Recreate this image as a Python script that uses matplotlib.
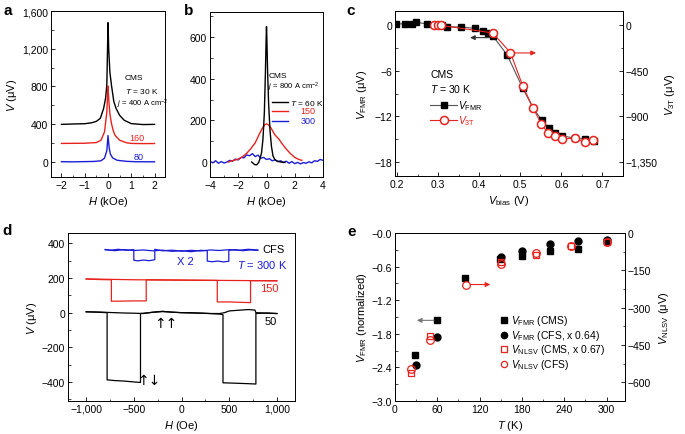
import numpy as np
import matplotlib
matplotlib.use('Agg')
import matplotlib.pyplot as plt
from matplotlib.ticker import MultipleLocator, FuncFormatter

plt.rcParams['font.family'] = ['Liberation Sans', 'DejaVu Sans']
plt.rcParams['mathtext.fontset'] = 'custom'
plt.rcParams['mathtext.rm'] = 'Liberation Sans'
plt.rcParams['mathtext.it'] = 'Liberation Sans:italic'
plt.rcParams['mathtext.default'] = 'regular'
plt.rcParams['font.size'] = 7.5
plt.rcParams['axes.linewidth'] = 0.7

# ---- Panel a: V vs H at T = 30 K for three currents
a_H_400 = [-2.0, -1.5, -1.0, -0.7, -0.5, -0.33, -0.19, -0.1, -0.05, 0.0, 0.03, 0.08, 0.15, 0.25, 0.35, 0.5, 0.7, 1.0, 1.5, 2.0]
a_V_400 = [398, 402, 405, 415, 430, 462, 565, 680, 820, 1476, 1200, 954, 812, 640, 565, 494, 441, 406, 396, 398]
a_H_160 = [-2.0, -1.5, -1.0, -0.5, -0.3, -0.15, -0.05, 0.0, 0.03, 0.08, 0.15, 0.22, 0.3, 0.5, 0.8, 1.0, 1.5, 2.0]
a_V_160 = [196, 197, 198, 205, 230, 318, 530, 805, 671, 512, 406, 336, 283, 230, 203, 196, 194, 195]
a_H_80 = [-2.0, -1.5, -1.0, -0.6, -0.3, -0.15, -0.05, 0.0, 0.05, 0.1, 0.2, 0.4, 0.8, 1.2, 2.0]
a_V_80 = [2, 1, 3, 5, 12, 40, 120, 280, 150, 85, 42, 17, 6, 2, 1]

# ---- Panel b: V vs H at j = 800 A/cm2 for three temperatures
b_H_60 = [-1.05, -0.85, -0.7, -0.55, -0.45, -0.35, -0.25, -0.15, -0.08, -0.03, 0.0, 0.03, 0.08, 0.15, 0.25, 0.35, 0.46, 0.6, 0.8, 1.0, 1.3]
b_V_60 = [0, -12, -14, -2, 18, 45, 110, 240, 420, 580, 650, 580, 430, 280, 150, 75, 29, 11, 3, 0, -2]
b_H_150 = [-2.7, -2.5, -2.2, -2.0, -1.7, -1.4, -1.1, -0.8, -0.5, -0.3, -0.1, 0.0, 0.1, 0.3, 0.6, 0.9, 1.1, 1.4, 1.7, 2.0, 2.3, 2.5]
b_V_150 = [0, 5, 10, 14, 25, 42, 65, 92, 135, 162, 180, 183, 180, 165, 130, 108, 88, 62, 40, 22, 12, 8]
b_H_300 = [-4.0, -3.8, -3.6, -3.4, -3.2, -3.0, -2.8, -2.6, -2.4, -2.2, -2.0, -1.8, -1.6, -1.4, -1.2, -1.0, -0.8, -0.6, -0.4, -0.2,
           0.0, 0.2, 0.4, 0.6, 0.8, 1.0, 1.2, 1.4, 1.6, 1.8, 2.0, 2.2, 2.4, 2.6, 2.8, 3.0, 3.2, 3.4, 3.6, 3.8, 4.0]
b_V_300 = [3, -4, 6, -6, 2, -5, 0, 8, 4, 14, 10, 22, 20, 34, 30, 40, 26, 33, 18, 22,
           12, 16, 6, 10, 2, 6, -3, 4, -6, 2, -8, -2, -9, -3, -6, 1, -4, 6, 3, 12, 8]

# ---- Panel c: bias dependence, CMS, T = 30 K
c_vb_fmr = [0.198, 0.22, 0.237, 0.247, 0.273, 0.298, 0.31, 0.322, 0.356, 0.389, 0.408, 0.421, 0.433, 0.468, 0.506, 0.531, 0.552, 0.57, 0.585, 0.602, 0.633, 0.657, 0.68]
c_fmr = [0.2, 0.2, 0.2, 0.4, 0.2, 0.0, 0.0, -0.2, -0.2, -0.4, -0.7, -1.0, -1.4, -3.9, -8.3, -10.9, -12.5, -13.6, -14.2, -14.6, -14.9, -15.0, -15.3]
c_vb_3t = [0.291, 0.299, 0.307, 0.433, 0.476, 0.506, 0.531, 0.551, 0.567, 0.585, 0.602, 0.633, 0.657, 0.678]
c_3t = [0, 0, 0, -75, -270, -600, -818, -975, -1065, -1095, -1125, -1118, -1155, -1133]

# ---- Panel d: nonlocal spin valve, sweeps up / down
d_H_50_up = [-1000, -900, -800, -700, -600, -500, -400, -300, -200, -100, 0, 100, 200, 300, 400, 435, 435, 500, 600, 700, 780, 780, 850, 900, 1000]
d_V_50_up = [5, 4, 2, 0, -2, -3, -5, 3, 8, 3, 0, -2, -3, -5, -8, -12, -405, -406, -408, -410, -412, -5, -3, -2, -5]
d_H_50_dn = [1000, 900, 780, 770, 700, 600, 500, 450, 400, 300, 100, 0, -100, -200, -300, -430, -430, -500, -600, -700, -780, -780, -850, -1000]
d_V_50_dn = [-5, -3, 0, 15, 18, 14, 10, 0, -5, -5, 0, 0, 3, 6, 2, -5, -403, -400, -395, -392, -388, 0, 2, 5]
d_H_150_up = [-1000, -500, 0, 375, 375, 500, 600, 724, 724, 850, 1000]
d_V_150_up = [195, 190, 188, 186, 62, 62, 60, 58, 185, 185, 184]
d_H_150_dn = [1000, 500, 0, -370, -370, -500, -600, -735, -735, -850, -1000]
d_V_150_dn = [184, 186, 188, 190, 68, 68, 67, 66, 190, 191, 194]
d_H_300_up = [-800, -700, -600, -500, -400, -300, -200, -100, 0, 100, 200, 270, 270, 320, 380, 440, 496, 496, 560, 640, 720, 800]
d_V_300_up = [363, 358, 364, 359, 362, 357, 361, 354, 358, 352, 360, 358, 298, 294, 298, 293, 297, 360, 364, 358, 362, 360]
d_H_300_dn = [800, 700, 600, 500, 400, 300, 200, 100, 0, -100, -200, -280, -280, -340, -400, -460, -500, -500, -580, -660, -740, -800]
d_V_300_dn = [362, 366, 360, 364, 359, 362, 356, 360, 355, 361, 357, 366, 306, 300, 304, 299, 303, 364, 360, 366, 361, 365]

# ---- Panel e: temperature dependence
e_T_fmr_cms = [29, 59, 99, 149, 180, 219, 260, 300]
e_fmr_cms = [-2.18, -1.56, -0.81, -0.47, -0.41, -0.33, -0.29, -0.14]
e_T_fmr_cfs = [30, 60, 150, 180, 220, 260, 300]
e_fmr_cfs = [-2.36, -1.85, -0.42, -0.33, -0.20, -0.14, -0.12]
e_T_nlsv_cms = [23, 49, 150, 200, 249, 300]
e_nlsv_cms = [-562, -414, -115, -88, -52, -36]
e_T_nlsv_cfs = [23, 49, 100, 150, 200, 249, 300]
e_nlsv_cfs = [-545, -428, -207, -124, -81, -52, -38]


fig = plt.figure(figsize=(6.85, 4.35), dpi=100)
W, Hh = 685.0, 435.0


def ax_px(l, t, r, b):
    return fig.add_axes([l / W, 1 - b / Hh, (r - l) / W, (b - t) / Hh])


def ticks_in(ax):
    ax.tick_params(direction='in', length=3, width=0.6, pad=2, labelsize=7.5)
    ax.tick_params(which='minor', direction='in', length=1.8, width=0.5)


comma = FuncFormatter(lambda v, p: '{:,.0f}'.format(v).replace('-', '\u2212'))
dec1 = FuncFormatter(lambda v, p: '{:.1f}'.format(v).replace('-', '\u2212'))
lab = dict(fontsize=8)

# a
ax = ax_px(51, 12, 165, 178)
ax.plot(a_H_400, a_V_400, color='black', lw=1)
ax.plot(a_H_160, a_V_160, color='#e8221e', lw=1)
ax.plot(a_H_80, a_V_80, color='#1c1cd6', lw=1)
ax.set_xlim(-2.45, 2.45)
ax.set_ylim(-160, 1600)
ax.xaxis.set_major_locator(MultipleLocator(1))
ax.xaxis.set_minor_locator(MultipleLocator(0.5))
ax.yaxis.set_major_locator(MultipleLocator(400))
ax.yaxis.set_minor_locator(MultipleLocator(200))
ax.yaxis.set_major_formatter(comma)
ax.xaxis.set_major_formatter(FuncFormatter(lambda v, p: '{:.0f}'.format(v).replace('-', '\u2212')))
ticks_in(ax)
ax.set_xlabel('$\\mathit{H}$ (kOe)', labelpad=3, **lab)
ax.set_ylabel('$\\mathit{V}$ ($\\mu$V)', labelpad=2, **lab)
ax.text(1.1, 900, 'CMS', fontsize=6, ha='center', va='center')
ax.text(0.75, 752, '$\\mathit{T}$ = 30 K', fontsize=6, ha='left', va='center', clip_on=False)
ax.text(0.37, 625, '$\\mathit{j}$ = 400 A cm$^{-2}$', fontsize=5.5, ha='left', va='center', clip_on=False)
ax.text(0.9, 254, '160', fontsize=6.5, color='#e8221e', ha='left', va='center')
ax.text(1.1, 53, '80', fontsize=6.5, color='#1c1cd6', ha='left', va='center')
fig.text(3 / W, 1 - 11 / Hh, 'a', fontsize=11, fontweight='bold', va='center')

# b
ax = ax_px(210, 13, 323, 178)
ax.plot(b_H_300, b_V_300, color='#1c1cd6', lw=1)
ax.plot(b_H_150, b_V_150, color='#e8221e', lw=1)
ax.plot(b_H_60, b_V_60, color='black', lw=1)
ax.set_xlim(-4, 4)
ax.set_ylim(-72, 720)
ax.xaxis.set_major_locator(MultipleLocator(2))
ax.xaxis.set_minor_locator(MultipleLocator(1))
ax.yaxis.set_major_locator(MultipleLocator(200))
ax.yaxis.set_minor_locator(MultipleLocator(100))
ax.xaxis.set_major_formatter(FuncFormatter(lambda v, p: '{:.0f}'.format(v).replace('-', '\u2212')))
ticks_in(ax)
ax.set_xlabel('$\\mathit{H}$ (kOe)', labelpad=3, **lab)
ax.text(0.18, 413, 'CMS', fontsize=6, ha='left', va='center')
ax.text(0.1, 365, '$\\mathit{j}$ = 800 A cm$^{-2}$', fontsize=5.5, ha='left', va='center', clip_on=False)
ax.plot([0.39, 1.52], [288, 288], color='black', lw=1)
ax.plot([0.39, 1.52], [245, 245], color='#e8221e', lw=1)
ax.plot([0.39, 1.52], [197, 197], color='#1c1cd6', lw=1)
ax.text(1.66, 288, '$\\mathit{T}$ = 60 K', fontsize=6, ha='left', va='center', clip_on=False)
ax.text(2.4, 245, '150', fontsize=6.5, color='#e8221e', ha='left', va='center')
ax.text(2.4, 197, '300', fontsize=6.5, color='#1c1cd6', ha='left', va='center')
fig.text(184 / W, 1 - 11 / Hh, 'b', fontsize=11, fontweight='bold', va='center')

# c
ax = ax_px(395, 12, 623, 177)
ax.plot(c_vb_fmr, c_fmr, color='#555555', lw=0.8, marker='s', ms=4.3, mfc='black', mec='black', zorder=3)
ax.set_xlim(0.195, 0.75)
ax.set_ylim(-19.9, 1.9)
ax.xaxis.set_major_locator(MultipleLocator(0.1))
ax.xaxis.set_minor_locator(MultipleLocator(0.05))
ax.yaxis.set_major_locator(MultipleLocator(6))
ax.yaxis.set_minor_locator(MultipleLocator(3))
ax.xaxis.set_major_formatter(dec1)
ax.yaxis.set_major_formatter(FuncFormatter(lambda v, p: '{:.0f}'.format(v).replace('-', '\u2212')))
ticks_in(ax)
ax.set_xlabel('$\\mathit{V}_{\\rm bias}$ (V)', labelpad=3, **lab)
ax.set_ylabel('$\\mathit{V}_{\\rm FMR}$ ($\\mu$V)', labelpad=4, **lab)
ax2 = ax.twinx()
ax2.plot(c_vb_3t, c_3t, color='#e8221e', lw=0.8, marker='o', ms=5.8, mfc='white', mec='#e8221e', mew=1.1, zorder=4)
ax2.set_ylim(-19.9 * 75, 1.9 * 75)
ax2.yaxis.set_major_locator(MultipleLocator(450))
ax2.yaxis.set_minor_locator(MultipleLocator(225))
ax2.yaxis.set_major_formatter(comma)
ticks_in(ax2)
ax2.set_ylabel('$\\mathit{V}_{\\rm 3T}$ ($\\mu$V)', labelpad=4, **lab)
ax.annotate('', xy=(0.371, -1.62), xytext=(0.432, -1.62),
            arrowprops=dict(arrowstyle='-|>', color='#333333', lw=0.8, mutation_scale=7))
ax.annotate('', xy=(0.545, -3.64), xytext=(0.476, -3.64),
            arrowprops=dict(arrowstyle='-|>', color='#e8221e', lw=0.8, mutation_scale=7))
ax.text(0.281, -6.37, 'CMS', fontsize=7.5, ha='left', va='center')
ax.text(0.281, -8.25, '$\\mathit{T}$ = 30 K', fontsize=7.5, ha='left', va='center')
ax.plot([0.281, 0.346], [-10.5, -10.5], color='#555555', lw=0.8)
ax.plot([0.315], [-10.5], marker='s', ms=4.3, color='black', ls='none')
ax.text(0.348, -10.5, '$\\mathit{V}_{\\rm FMR}$', fontsize=7.5, ha='left', va='center')
ax.plot([0.281, 0.346], [-12.5, -12.5], color='#e8221e', lw=0.8)
ax.plot([0.315], [-12.5], marker='o', ms=5.8, mfc='white', mec='#e8221e', mew=1.1, ls='none')
ax.text(0.348, -12.5, '$\\mathit{V}_{\\rm 3T}$', fontsize=7.5, color='#e8221e', ha='left', va='center')
fig.text(346 / W, 1 - 11 / Hh, 'c', fontsize=11, fontweight='bold', va='center')

# d
ax = ax_px(68, 234, 295, 402)
ax.plot(d_H_300_up, d_V_300_up, color='#1c1cd6', lw=0.9)
ax.plot(d_H_300_dn, d_V_300_dn, color='#1c1cd6', lw=0.9)
ax.plot(d_H_150_up, d_V_150_up, color='#e8221e', lw=0.9)
ax.plot(d_H_150_dn, d_V_150_dn, color='#e8221e', lw=0.9)
ax.plot(d_H_50_up, d_V_50_up, color='black', lw=0.9)
ax.plot(d_H_50_dn, d_V_50_dn, color='black', lw=0.9)
ax.set_xlim(-1190, 1190)
ax.set_ylim(-510, 460)
ax.xaxis.set_major_locator(MultipleLocator(500))
ax.xaxis.set_minor_locator(MultipleLocator(250))
ax.yaxis.set_major_locator(MultipleLocator(200))
ax.yaxis.set_minor_locator(MultipleLocator(100))
ax.xaxis.set_major_formatter(comma)
ax.yaxis.set_major_formatter(comma)
ticks_in(ax)
ax.set_xlabel('$\\mathit{H}$ (Oe)', labelpad=3, **lab)
ax.set_ylabel('$\\mathit{V}$ ($\\mu$V)', labelpad=2, **lab)
ax.text(845, 369, 'CFS', fontsize=8, ha='left', va='center')
ax.text(-45, 299, 'X 2', fontsize=8, color='#1c1cd6', ha='left', va='center')
ax.text(583, 280, '$\\mathit{T}$ = 300 K', fontsize=8, color='#1c1cd6', ha='left', va='center')
ax.text(827, 140, '150', fontsize=8, color='#e8221e', ha='left', va='center')
ax.text(869, -46, '50', fontsize=8, ha='left', va='center')
ax.text(-168, -60, '\u2191\u2191', fontsize=10, ha='center', va='center', family=['DejaVu Sans'])
ax.text(-342, -391, '\u2191\u2193', fontsize=10, ha='center', va='center', family=['DejaVu Sans'])
fig.text(2 / W, 1 - 231 / Hh, 'd', fontsize=11, fontweight='bold', va='center')

# e
ax = ax_px(395, 234, 625, 402)
ax2 = ax.twinx()
ax.set_xlim(0, 326)
ax.set_ylim(-3.0, 0.0)
ax2.set_ylim(-675, 0)
ax.plot(e_T_fmr_cms, e_fmr_cms, ls='none', marker='s', ms=4.5, color='black', zorder=3)
ax.plot(e_T_fmr_cfs, e_fmr_cfs, ls='none', marker='o', ms=5, color='black', zorder=3)
ax2.plot(e_T_nlsv_cms, e_nlsv_cms, ls='none', marker='s', ms=5, mfc='none', mec='#e8221e', mew=0.9)
ax2.plot(e_T_nlsv_cfs, e_nlsv_cfs, ls='none', marker='o', ms=5.5, mfc='none', mec='#e8221e', mew=0.9)
ax.xaxis.set_major_locator(MultipleLocator(60))
ax.xaxis.set_minor_locator(MultipleLocator(30))
ax.yaxis.set_major_locator(MultipleLocator(0.6))
ax.yaxis.set_minor_locator(MultipleLocator(0.3))
ax.yaxis.set_major_formatter(dec1)
ax2.yaxis.set_major_locator(MultipleLocator(150))
ax2.yaxis.set_minor_locator(MultipleLocator(75))
ax2.yaxis.set_major_formatter(comma)
ticks_in(ax)
ticks_in(ax2)
ax.set_xlabel('$\\mathit{T}$ (K)', labelpad=3, **lab)
ax.set_ylabel('$\\mathit{V}_{\\rm FMR}$ (normalized)', labelpad=2, **lab)
ax2.set_ylabel('$\\mathit{V}_{\\rm NLSV}$ ($\\mu$V)', labelpad=4, **lab)
ax.annotate('', xy=(27, -1.56), xytext=(59, -1.56),
            arrowprops=dict(arrowstyle='-|>', color='#777777', lw=0.8, mutation_scale=7))
ax.annotate('', xy=(139, -0.92), xytext=(103, -0.92),
            arrowprops=dict(arrowstyle='-|>', color='#e8221e', lw=0.8, mutation_scale=7))
leg_y = [-1.55, -1.82, -2.08, -2.34]
ax.plot([155], [leg_y[0]], marker='s', ms=4, color='black')
ax.plot([155], [leg_y[1]], marker='o', ms=4.5, color='black')
ax.plot([155], [leg_y[2]], marker='s', ms=4.5, mfc='none', mec='#e8221e', mew=0.9)
ax.plot([155], [leg_y[3]], marker='o', ms=4.5, mfc='none', mec='#e8221e', mew=0.9)
leg_txt = ['$\\mathit{V}_{\\rm FMR}$ (CMS)', '$\\mathit{V}_{\\rm FMR}$ (CFS, x 0.64)',
           '$\\mathit{V}_{\\rm NLSV}$ (CMS, x 0.67)', '$\\mathit{V}_{\\rm NLSV}$ (CFS)']
for yy, tt in zip(leg_y, leg_txt):
    ax.text(164, yy, tt, fontsize=7.5, ha='left', va='center')
fig.text(347 / W, 1 - 232 / Hh, 'e', fontsize=11, fontweight='bold', va='center')

fig.savefig('out.png', dpi=100)
